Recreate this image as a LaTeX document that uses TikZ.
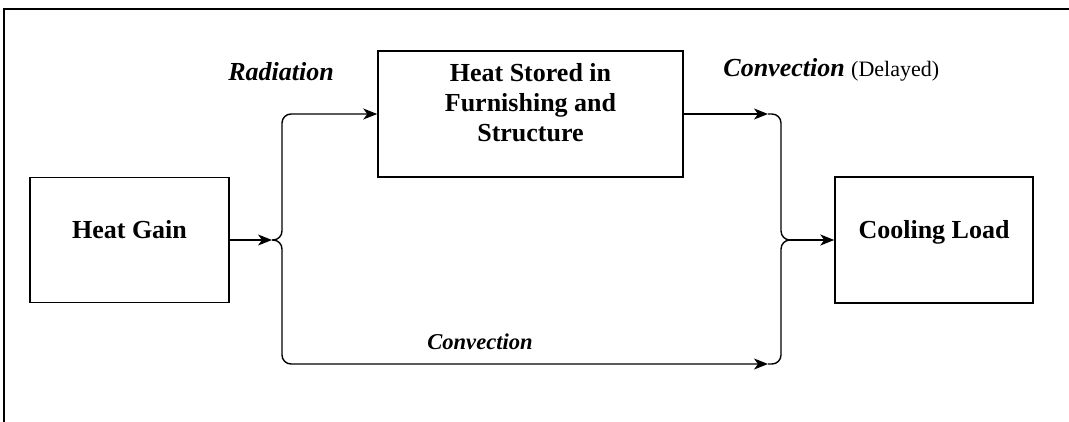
\documentclass[tikz,border=0pt]{standalone}
\usepackage{fontspec}
\setmainfont{Liberation Serif}
\usetikzlibrary{arrows.meta}

\begin{document}
\begin{tikzpicture}[x=0.5pt, y=-0.5pt,
  box/.style={draw, line width=0.75pt, align=center, inner sep=0pt,
    font=\bfseries\fontsize{13}{15}\selectfont},
  onerow/.style={text height=9pt, text depth=11pt},
  lbl/.style={inner sep=0pt, anchor=base, font=\bfseries\itshape\fontsize{13}{15}\selectfont},
  arr/.style={-{Stealth[length=7pt, width=5.5pt, inset=2pt]}, line width=0.7pt},
  brace/.style={line width=0.7pt, rounded corners=4.5pt}
]
  \useasboundingbox (0,0) rectangle (1069,422);
  \draw[line width=1pt] (1069,9) -- (4,9) -- (4,422);

  % boxes
  \node[box, onerow, minimum width=99.5pt, minimum height=62.5pt] (gain) at (129.5,240) {Heat Gain};
  \node[box, minimum width=152.5pt, minimum height=63pt, text height=39pt, text depth=11pt] (stored) at (530.5,114)
    {Heat Stored in\\Furnishing and\\Structure};
  \node[box, onerow, minimum width=99pt, minimum height=63pt] (load) at (934,240) {Cooling Load};

  % labels
  \node[lbl] (radiation) at (281,81) {Radiation};
  \node[lbl, anchor=base west] (delayed) at (723,77)
    {Convection {\normalfont\fontsize{11}{13}\selectfont (Delayed)}};
  \node[lbl, font=\bfseries\itshape\fontsize{11.3}{13}\selectfont] (convection) at (480,349) {Convection};

  \coordinate (split) at (272,240);
  \coordinate (join) at (787,240);
  \coordinate (delayin) at (768,114);
  \coordinate (directin) at (768,364);

  % heat gain splits in two
  \draw[arr] (gain) -- (split);
  \draw[arr, brace] (split) -- ++(10,0) |- (stored.west);
  \draw[arr, brace] (split) -- ++(10,0) |- (directin);

  % both parts join again
  \draw[arr] (stored.east |- delayin) -- (delayin);
  \draw[brace] (delayin) -| (781,240) -- (join);
  \draw[brace] (directin) -| (781,240) -- (join);
  \draw[arr] (join) -- (load);
\end{tikzpicture}
\end{document}
